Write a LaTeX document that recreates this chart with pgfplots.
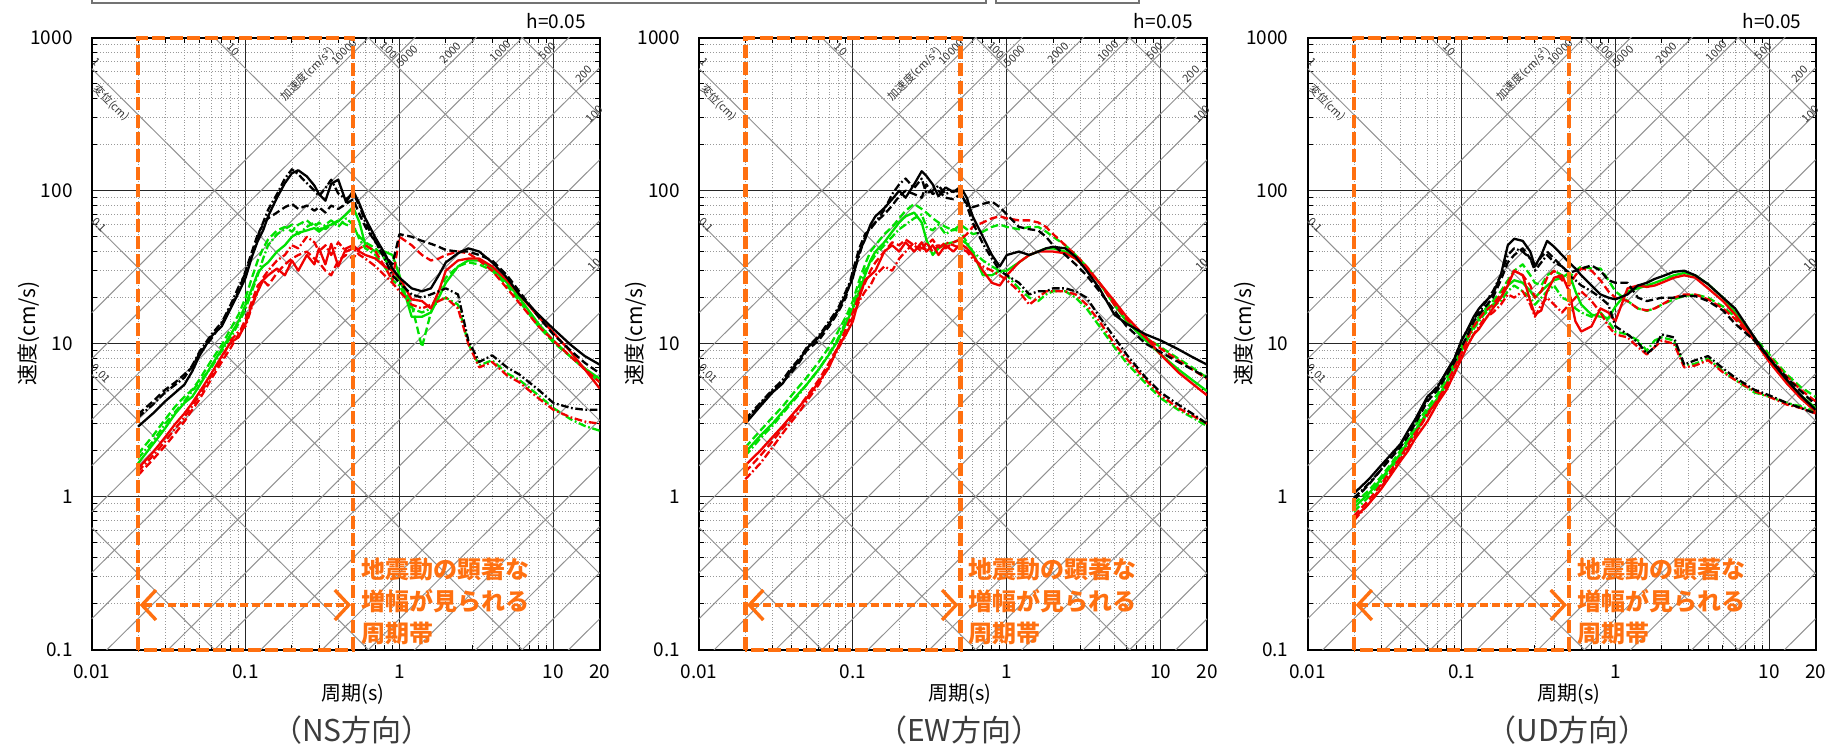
\documentclass[border=0pt]{standalone}
\usepackage{fontspec}
\setmainfont{Noto Sans CJK JP}
\usepackage{pgfplots}
\pgfplotsset{compat=1.18}
\usepackage{pgfplotstable}
\usetikzlibrary{arrows.meta}

\definecolor{orng}{RGB}{255,112,16}
\definecolor{grn}{RGB}{0,225,0}
\definecolor{rd}{RGB}{240,0,0}
\definecolor{diagc}{RGB}{145,145,145}
\definecolor{ttl}{RGB}{60,60,60}

\pgfplotstableread{
T BS BD BDD GS GD GDD RS RD RDD
0.02 2.87 3.45 3.30 1.65 1.90 1.78 1.53 1.38 1.46
0.025 3.50 4.20 4.00 2.20 2.50 2.30 1.95 1.75 1.85
0.03 4.20 5.00 4.80 2.80 3.20 3.00 2.45 2.15 2.30
0.035 4.80 5.60 5.40 3.50 3.90 3.60 3.00 2.60 2.80
0.04 5.40 6.30 6.00 4.10 4.50 4.20 3.50 3.10 3.30
0.045 6.60 7.00 7.20 4.50 5.00 4.90 4.10 3.70 3.90
0.05 8.30 8.60 8.80 5.30 5.80 5.60 4.80 4.30 4.60
0.06 11.2 10.8 11.5 7.20 7.80 7.00 6.40 5.90 6.20
0.07 13.0 13.5 13.8 9.20 9.80 9.00 8.30 7.60 8.00
0.08 17.0 17.5 18.0 11.5 12.5 11.0 10.2 9.40 10.5
0.09 21.5 22.0 23.5 14.0 15.5 13.5 11.0 11.5 12.0
0.1 27.0 30.0 29.0 18.0 20.0 17.0 13.5 14.5 13.0
0.11 37.0 40.0 38.0 23.0 27.0 22.0 18.0 19.0 17.5
0.12 47.0 52.0 50.0 29.0 35.0 28.0 22.0 24.0 22.0
0.13 55.0 60.0 62.0 32.0 42.0 36.0 26.0 26.0 27.0
0.14 68.0 66.0 75.0 34.0 48.0 44.0 28.0 24.0 30.0
0.16 90.0 72.0 95.0 40.0 55.0 52.0 31.0 29.0 35.0
0.18 112 78.0 120 44.0 58.0 56.0 28.0 33.0 38.0
0.2 130 82.0 138 50.0 54.0 60.0 35.0 36.0 44.0
0.22 136 76.0 128 53.0 60.0 52.0 30.0 38.0 42.0
0.25 124 80.0 112 55.0 64.0 58.0 38.0 40.0 50.0
0.28 108 74.0 100 57.0 58.0 62.0 33.0 36.0 46.0
0.3 95.0 78.0 92.0 54.0 62.0 55.0 42.0 34.0 40.0
0.33 86.0 72.0 104 58.0 56.0 60.0 33.0 30.0 44.0
0.36 111 80.0 118 60.0 60.0 64.0 45.0 28.0 38.0
0.4 118 76.0 96.0 63.0 64.0 58.0 32.0 35.0 46.0
0.45 84.0 82.0 88.0 70.0 60.0 66.0 42.0 38.0 40.0
0.5 100 88.0 96.0 78.0 58.0 60.0 44.0 36.0 42.0
0.55 82.0 70.0 80.0 62.0 50.0 48.0 40.0 42.0 38.0
0.6 66.0 58.0 62.0 44.0 46.0 42.0 38.0 44.0 36.0
0.7 49.0 46.0 46.0 40.0 42.0 38.0 36.0 40.0 32.0
0.8 39.0 38.0 36.0 40.0 36.0 32.0 32.0 32.0 28.0
0.9 31.0 33.0 28.0 38.0 30.0 26.0 30.0 26.0 25.0
1.0 27.0 52.0 25.0 28.0 26.0 24.0 27.0 50.0 22.0
1.2 23.0 50.0 21.0 15.0 18.0 17.0 19.5 44.0 18.0
1.4 22.0 47.0 20.0 15.0 9.50 16.0 19.0 38.0 17.0
1.6 23.0 45.0 21.0 16.0 16.0 17.0 17.0 35.0 18.0
1.8 28.0 43.0 22.0 20.0 22.0 19.0 22.0 36.0 19.0
2.0 34.0 41.0 23.0 25.0 27.0 20.0 30.0 38.0 20.0
2.4 39.0 40.0 21.0 32.0 32.0 18.0 35.0 40.0 17.0
2.8 42.0 40.0 10.5 35.0 34.0 10.0 36.0 39.0 10.0
3.3 40.0 38.0 7.60 35.0 33.0 7.20 36.0 35.0 7.00
4.0 34.0 35.0 8.40 31.0 30.0 7.80 32.0 30.0 7.60
5.0 27.0 28.0 7.00 25.0 24.0 6.40 26.0 23.0 6.20
6.0 21.0 22.0 6.30 20.0 19.0 5.80 21.0 18.5 5.60
8.0 15.5 15.0 5.00 13.5 13.0 4.60 15.0 13.0 4.40
10 12.5 11.5 4.10 10.5 10.2 3.80 11.8 10.5 3.70
13 9.80 9.00 3.80 8.20 8.20 3.20 8.80 8.20 3.30
16 8.30 7.50 3.70 6.90 6.80 2.90 6.80 6.80 3.10
20 7.30 6.40 3.70 5.90 5.60 2.70 5.10 5.60 3.00
}\dataNS

\pgfplotstableread{
T BS BD BDD GS GD GDD RS RD RDD
0.02 3.0 3.1 3.2 1.95 2.1 1.85 1.6 1.45 1.3
0.025 3.9 4.0 4.1 2.5 2.7 2.4 2.0 1.85 1.65
0.03 4.8 4.9 5.0 3.0 3.3 2.9 2.45 2.3 2.1
0.035 5.5 5.6 5.8 3.6 3.9 3.5 2.9 2.8 2.6
0.04 6.8 6.5 7.0 4.2 4.6 4.1 3.4 3.3 3.1
0.045 7.8 7.6 8.0 4.8 5.3 4.7 3.9 3.9 3.6
0.05 9.3 9.0 9.4 5.4 6.0 5.4 4.4 4.5 4.2
0.06 11.0 10.5 11.2 6.8 7.6 6.8 5.6 5.8 5.4
0.07 13.5 13.0 14.0 8.5 9.5 8.6 7.0 7.5 7.2
0.08 16.5 16.0 17.0 10.5 12.0 10.8 9.5 9.5 9.2
0.09 21.0 20.0 22.0 13.5 15.0 14.0 11.5 12.5 11.5
0.1 27.0 30.0 28.0 17.0 19.0 18.0 14.0 16.0 15.0
0.11 40.0 42.0 38.0 22.0 26.0 24.0 20.0 21.0 19.0
0.12 48.0 52.0 50.0 28.0 33.0 30.0 26.0 25.0 22.0
0.13 60.0 56.0 58.0 35.0 40.0 34.0 28.0 30.0 24.0
0.14 68.0 62.0 62.0 40.0 44.0 38.0 30.0 34.0 28.0
0.16 77.0 70.0 75.0 46.0 52.0 44.0 40.0 40.0 32.0
0.18 88.0 80.0 95.0 54.0 58.0 50.0 44.0 46.0 30.0
0.2 100 92.0 110 62.0 66.0 56.0 40.0 44.0 36.0
0.22 90 100 120 68.0 74.0 60.0 46.0 48.0 40.0
0.25 110 95.0 104 72.0 82.0 66.0 40.0 44.0 46.0
0.28 134 90.0 120 62.0 76.0 70.0 46.0 40.0 42.0
0.3 125 110 96 48.0 72.0 58.0 40.0 46.0 44.0
0.33 110 95.0 100 38.0 66.0 55.0 44.0 40.0 48.0
0.36 92 100 108 42.0 62.0 60.0 38.0 44.0 42.0
0.4 105 90.0 95 45.0 58.0 52.0 44.0 42.0 46.0
0.45 98 88.0 100 46.0 55.0 56.0 40.0 46.0 44.0
0.5 106 95.0 98 48.0 60.0 54.0 45.0 48.0 42.0
0.55 90 82.0 80 45.0 56.0 46.0 42.0 52.0 40.0
0.6 68 78.0 62 40.0 52.0 40.0 38.0 58.0 36.0
0.7 50 82.0 45 28.0 54.0 35.0 30.0 62.0 32.0
0.8 38 85.0 36 28.0 58.0 32.0 25.0 66.0 30.0
0.9 32 78.0 30 30.0 60.0 30.0 24.0 68.0 28.0
1.0 38 70.0 28 30.0 58.0 28.0 28.0 66.0 26.0
1.2 40 58.0 25 34.0 56.0 23.0 34.0 64.0 22.0
1.4 38 56.0 21 38.0 58.0 20.0 38.0 64.0 18.0
1.6 40 55.0 22 40.0 58.0 19.0 40.0 62.0 20.0
1.8 42 50.0 22 42.0 54.0 21.0 40.0 58.0 22.0
2.0 43 44.0 23 42.0 50.0 22.0 40.0 52.0 22.0
2.4 42 38.0 23 40.0 44.0 22.0 39.0 44.0 22.0
2.8 37 33.0 22 36.0 38.0 20.0 36.0 38.0 21.0
3.3 30 28.0 20 31.0 32.0 17.0 31.0 32.0 18.0
4.0 23 22.0 15 25.0 25.0 13.0 25.0 25.0 14.0
5.0 15.5 16.5 11 18.0 18.0 9.5 19.0 18.0 10.0
6.0 13.5 13.0 8.5 14.0 14.0 7.5 15.0 14.5 8.0
8.0 11.5 10.0 6.0 10.5 11.0 5.5 11.0 11.0 5.8
10 10.5 8.8 4.8 8.5 9.5 4.4 8.5 9.3 4.6
13 9.2 7.6 4.0 6.8 8.0 3.7 6.5 7.8 3.8
16 8.2 6.8 3.5 5.8 7.0 3.3 5.5 6.8 3.4
20 7.3 6.0 3.0 4.9 6.0 2.9 4.6 5.9 3.0
}\dataEW

\pgfplotstableread{
T BS BD BDD GS GD GDD RS RD RDD
0.02 1.05 0.95 0.98 0.85 0.9 0.8 0.72 0.75 0.7
0.025 1.3 1.2 1.22 1.05 1.1 1.0 0.9 0.95 0.9
0.03 1.6 1.5 1.5 1.3 1.35 1.25 1.12 1.2 1.15
0.035 1.9 1.8 1.85 1.6 1.65 1.55 1.4 1.5 1.45
0.04 2.2 2.1 2.2 1.9 2.0 1.85 1.7 1.8 1.75
0.045 2.7 2.5 2.6 2.3 2.4 2.2 2.0 2.2 2.1
0.05 3.2 3.0 3.1 2.7 2.9 2.6 2.4 2.6 2.5
0.06 4.5 4.2 4.4 3.6 3.8 3.5 3.1 3.4 3.5
0.07 5.2 5.0 5.3 4.4 4.7 4.3 4.1 4.3 4.2
0.08 6.6 6.2 6.5 5.6 6.0 5.5 5.0 5.4 5.2
0.09 8.0 7.6 8.0 7.2 7.6 7.0 6.4 7.0 6.4
0.1 10.5 9.5 10.5 9.0 9.6 9.0 8.0 8.8 8.6
0.11 12.5 11.5 12.5 11.0 11.5 10.8 9.8 11.0 10.0
0.12 15.0 14.0 14.5 13.0 13.5 12.5 11.5 13.0 11.5
0.13 17.0 15.5 16.0 14.5 15.0 14.0 12.5 14.5 13.0
0.14 18.5 17.0 18.0 16.0 16.5 15.5 14.0 16.0 14.5
0.16 21.0 20.0 22.0 18.0 19.0 17.5 17.0 18.0 16.0
0.18 28.0 26.0 28.0 20.0 22.0 19.0 20.0 21.0 18.0
0.2 44.0 34.0 38.0 24.0 26.0 22.0 24.0 25.0 21.0
0.22 48.5 38.0 42.0 26.0 30.0 24.0 30.0 30.0 20.0
0.25 47.0 42.0 40.0 25.0 33.0 22.0 28.0 28.0 22.0
0.28 40.0 36.0 36.0 22.0 28.0 20.0 19.0 24.0 18.0
0.3 32.0 32.0 30.0 20.0 25.0 18.0 15.5 20.0 15.0
0.33 38.0 37.0 34.0 22.0 24.0 20.0 16.5 22.0 18.0
0.36 47.0 40.0 38.0 24.0 28.0 22.0 22.0 27.0 20.0
0.4 43.0 36.0 34.0 26.0 30.0 24.0 27.0 30.0 18.0
0.45 38.0 32.0 32.0 27.0 28.0 20.0 28.0 26.0 16.0
0.5 34.0 29.0 28.0 29.0 27.0 19.0 22.0 24.0 18.0
0.55 31.0 30.0 26.0 22.0 30.0 17.0 14.0 28.0 20.0
0.6 28.0 31.0 24.0 18.0 32.0 16.0 12.0 31.0 22.0
0.7 24.0 32.5 22.0 15.5 31.0 15.0 13.0 30.0 19.0
0.8 21.0 30.0 20.0 15.0 31.0 16.0 17.0 26.0 16.0
0.9 20.0 26.0 18.0 14.7 26.0 14.0 16.0 22.0 13.0
1.0 19.5 25.0 13.0 17.5 22.0 12.0 14.0 20.0 11.5
1.2 21.0 25.0 11.5 22.0 19.0 11.5 23.0 19.0 11.0
1.4 24.0 20.0 10.2 23.0 17.0 10.5 24.0 17.0 9.5
1.6 25.0 19.0 8.6 24.0 16.4 9.0 23.5 16.5 8.5
1.8 26.5 19.5 9.5 25.0 17.0 10.5 24.0 17.0 9.5
2.0 27.5 20.0 11.5 26.0 18.0 11.0 25.0 18.0 10.5
2.4 29.5 20.0 11.0 28.0 19.5 10.5 27.0 20.0 10.0
2.8 30.0 20.5 7.3 29.0 20.5 7.2 28.0 21.0 7.0
3.3 28.0 20.5 7.8 28.0 21.0 7.4 27.0 21.0 7.2
4.0 24.5 19.0 8.3 24.5 20.0 8.0 23.0 19.5 7.8
5.0 20.0 16.5 6.9 20.0 17.5 6.6 19.0 17.0 6.5
6.0 17.0 13.5 6.0 16.0 15.0 5.8 15.5 14.5 5.8
8.0 11.0 10.5 5.0 10.5 11.0 4.8 10.5 10.5 4.9
10 8.0 8.0 4.6 7.8 8.5 4.5 7.6 8.2 4.5
13 5.8 6.0 4.1 5.7 6.3 4.1 5.5 6.1 4.0
16 4.6 4.9 3.8 4.6 5.2 3.9 4.4 5.0 3.8
20 3.7 4.0 3.5 3.8 4.5 3.6 3.6 4.2 3.5
}\dataUD

\tikzset{
  dsh/.style={dash pattern=on 3.8pt off 1.8pt},
  dd/.style={dash pattern=on 3.8pt off 1.3pt on 0.9pt off 1.3pt},
  dlab/.style={font=\fontsize{5.5}{6}\selectfont, text=black!80, inner sep=0pt},
  dline/.style={color=diagc, line width=0.5pt},
}

\pgfplotsset{
  every axis/.append style={
    xmode=log, ymode=log,
    xmin=0.01, xmax=20, ymin=0.1, ymax=1000,
    scale only axis, width=254pt, height=306pt,
    anchor=south west,
    axis line style={line width=1pt, black},
    xtick={0.01,0.1,1,10,20}, xticklabels={0.01,0.1,1,10,20},
    ytick={0.1,1,10,100,1000}, yticklabels={0.1,1,10,100,1000},
    minor xtick={0.02,0.03,0.04,0.05,0.06,0.07,0.08,0.09,0.2,0.3,0.4,0.5,0.6,0.7,0.8,0.9,2,3,4,5,6,7,8,9},
    minor ytick={0.2,0.3,0.4,0.5,0.6,0.7,0.8,0.9,2,3,4,5,6,7,8,9,20,30,40,50,60,70,80,90,200,300,400,500,600,700,800,900},
    grid=both,
    major grid style={black!85, line width=0.6pt},
    minor grid style={gray!80, densely dotted, line width=0.4pt},
    tick align=inside,
    major tick length=0pt, minor tick length=2.5pt,
    tick style={black, line width=0.5pt},
    xticklabel style={font=\fontsize{9.5}{10}\selectfont, yshift=-4pt},
    yticklabel style={font=\fontsize{9.5}{10}\selectfont, xshift=-6pt},
  },
  every axis plot/.append style={line width=1.15pt, line join=round},
}

\newcommand{\diaglines}{%
  \addplot[dline, forget plot] coordinates {(0.01,0.62832) (20,0.00031416)};
  \addplot[dline, forget plot] coordinates {(0.01,6.2832) (20,0.0031416)};
  \addplot[dline, forget plot] coordinates {(0.01,62.832) (20,0.031416)};
  \addplot[dline, forget plot] coordinates {(0.01,628.32) (20,0.31416)};
  \addplot[dline, forget plot] coordinates {(0.01,6283.2) (20,3.1416)};
  \addplot[dline, forget plot] coordinates {(0.01,62832) (20,31.416)};
  \addplot[dline, forget plot] coordinates {(0.01,628320) (20,314.16)};
  \addplot[dline, forget plot] coordinates {(0.01,0.0000796) (20,0.15915)};
  \addplot[dline, forget plot] coordinates {(0.01,0.00015915) (20,0.31831)};
  \addplot[dline, forget plot] coordinates {(0.01,0.0003183) (20,0.63662)};
  \addplot[dline, forget plot] coordinates {(0.01,0.00079577) (20,1.5915)};
  \addplot[dline, forget plot] coordinates {(0.01,0.0015915) (20,3.1831)};
  \addplot[dline, forget plot] coordinates {(0.01,0.003183) (20,6.3662)};
  \addplot[dline, forget plot] coordinates {(0.01,0.0079577) (20,15.915)};
  \addplot[dline, forget plot] coordinates {(0.01,0.015915) (20,31.831)};
  \addplot[dline, forget plot] coordinates {(0.01,0.03183) (20,63.662)};
  \addplot[dline, forget plot] coordinates {(0.01,0.079577) (20,159.15)};
  \addplot[dline, forget plot] coordinates {(0.01,0.15915) (20,318.31)};
  \addplot[dline, forget plot] coordinates {(0.01,0.3183) (20,636.62)};
  \addplot[dline, forget plot] coordinates {(0.01,0.79577) (20,1591.5)};
  \addplot[dline, forget plot] coordinates {(0.01,1.5915) (20,3183.1)};
  \addplot[dline, forget plot] coordinates {(0.01,3.183) (20,6366.2)};
  \addplot[dline, forget plot] coordinates {(0.01,7.9577) (20,15915)};
  \addplot[dline, forget plot] coordinates {(0.01,15.915) (20,31831)};
}

\newcommand{\diaglabels}{%
  \node[dlab, rotate=-45] at (axis cs:0.0108,700) {1};
  \node[dlab, rotate=-45] at (axis cs:0.0134,374) {変位(cm)};
  \node[dlab, rotate=-45] at (axis cs:0.0112,60) {0.1};
  \node[dlab, rotate=-45] at (axis cs:0.0115,6.4) {0.01};
  \node[dlab, rotate=-45] at (axis cs:0.0836,840) {10};
  \node[dlab, rotate=-45] at (axis cs:0.858,827) {100};
  \node[dlab, rotate=45] at (axis cs:0.252,582) {加速度(cm/s²)};
  \node[dlab, rotate=45] at (axis cs:0.4375,807) {10000};
  \node[dlab, rotate=45] at (axis cs:1.124,760) {5000};
  \node[dlab, rotate=45] at (axis cs:2.15,798) {2000};
  \node[dlab, rotate=45] at (axis cs:4.55,818) {1000};
  \node[dlab, rotate=45] at (axis cs:9.16,818) {500};
  \node[dlab, rotate=45] at (axis cs:15.8,577) {200};
  \node[dlab, rotate=45] at (axis cs:18.5,316) {100};
  \node[dlab, rotate=45] at (axis cs:18.5,33) {10};
}

\newcommand{\curves}[1]{%
  \addplot[grn] table[x=T,y=GS]{#1};
  \addplot[grn,dsh] table[x=T,y=GD]{#1};
  \addplot[grn,dd] table[x=T,y=GDD]{#1};
  \addplot[rd] table[x=T,y=RS]{#1};
  \addplot[rd,dsh] table[x=T,y=RD]{#1};
  \addplot[rd,dd] table[x=T,y=RDD]{#1};
  \addplot[black] table[x=T,y=BS]{#1};
  \addplot[black,dsh] table[x=T,y=BD]{#1};
  \addplot[black,dd] table[x=T,y=BDD]{#1};
}

\newcommand{\bandannot}{%
  \draw[orng, line width=2.2pt, dash pattern=on 6.5pt off 2.2pt] (axis cs:0.02,0.1) rectangle (axis cs:0.5,1000);
  \draw[orng, line width=1.7pt, dash pattern=on 4pt off 2pt,
    {Straight Barb[length=7pt,width=15pt,line width=1.7pt]}-{Straight Barb[length=7pt,width=15pt,line width=1.7pt]}]
    (axis cs:0.0205,0.196) -- (axis cs:0.485,0.196);
  \node[anchor=north west, align=left, text=orng, inner sep=0pt, font=\bfseries\fontsize{12}{16}\selectfont]
    at (axis cs:0.56,0.40) {地震動の顕著な\\増幅が見られる\\周期帯};
}

\newcommand{\decor}[1]{%
  \node[anchor=base east, font=\fontsize{9.5}{10}\selectfont] at ([xshift=-3.5pt,yshift=4.6pt]rel axis cs:1,1) {h=0.05};
  \node[font=\fontsize{10}{11}\selectfont] at ([yshift=-22.15pt]rel axis cs:0.514,0) {周期(s)};
  \node[rotate=90, font=\fontsize{10.5}{11}\selectfont] at ([xshift=-31.6pt]rel axis cs:0,0.517) {速度(cm/s)};
  \node[font=\fontsize{15}{16}\selectfont, text=ttl] at ([yshift=-40.15pt]rel axis cs:0.512,0) {#1};
}

\begin{document}
\begin{tikzpicture}
\useasboundingbox (0,0) rectangle (921pt,375pt);

\begin{axis}[at={(45.85pt,50.15pt)}, after end axis/.code={\diaglabels\bandannot\decor{（NS方向）}}]
\diaglines
\curves{\dataNS}
\end{axis}

\begin{axis}[at={(349.5pt,50.15pt)}, after end axis/.code={\diaglabels\bandannot\decor{（EW方向）}}]
\diaglines
\curves{\dataEW}
\end{axis}

\begin{axis}[at={(653.8pt,50.15pt)}, after end axis/.code={\diaglabels\bandannot\decor{（UD方向）}}]
\diaglines
\curves{\dataUD}
\end{axis}

\draw[black!55, line width=0.8pt] (45.85pt,380pt) -- (45.85pt,373.35pt) -- (493pt,373.35pt) -- (493pt,380pt);
\draw[black!55, line width=0.8pt] (498pt,380pt) -- (498pt,373.35pt) -- (569.5pt,373.35pt) -- (569.5pt,380pt);
\end{tikzpicture}
\end{document}
